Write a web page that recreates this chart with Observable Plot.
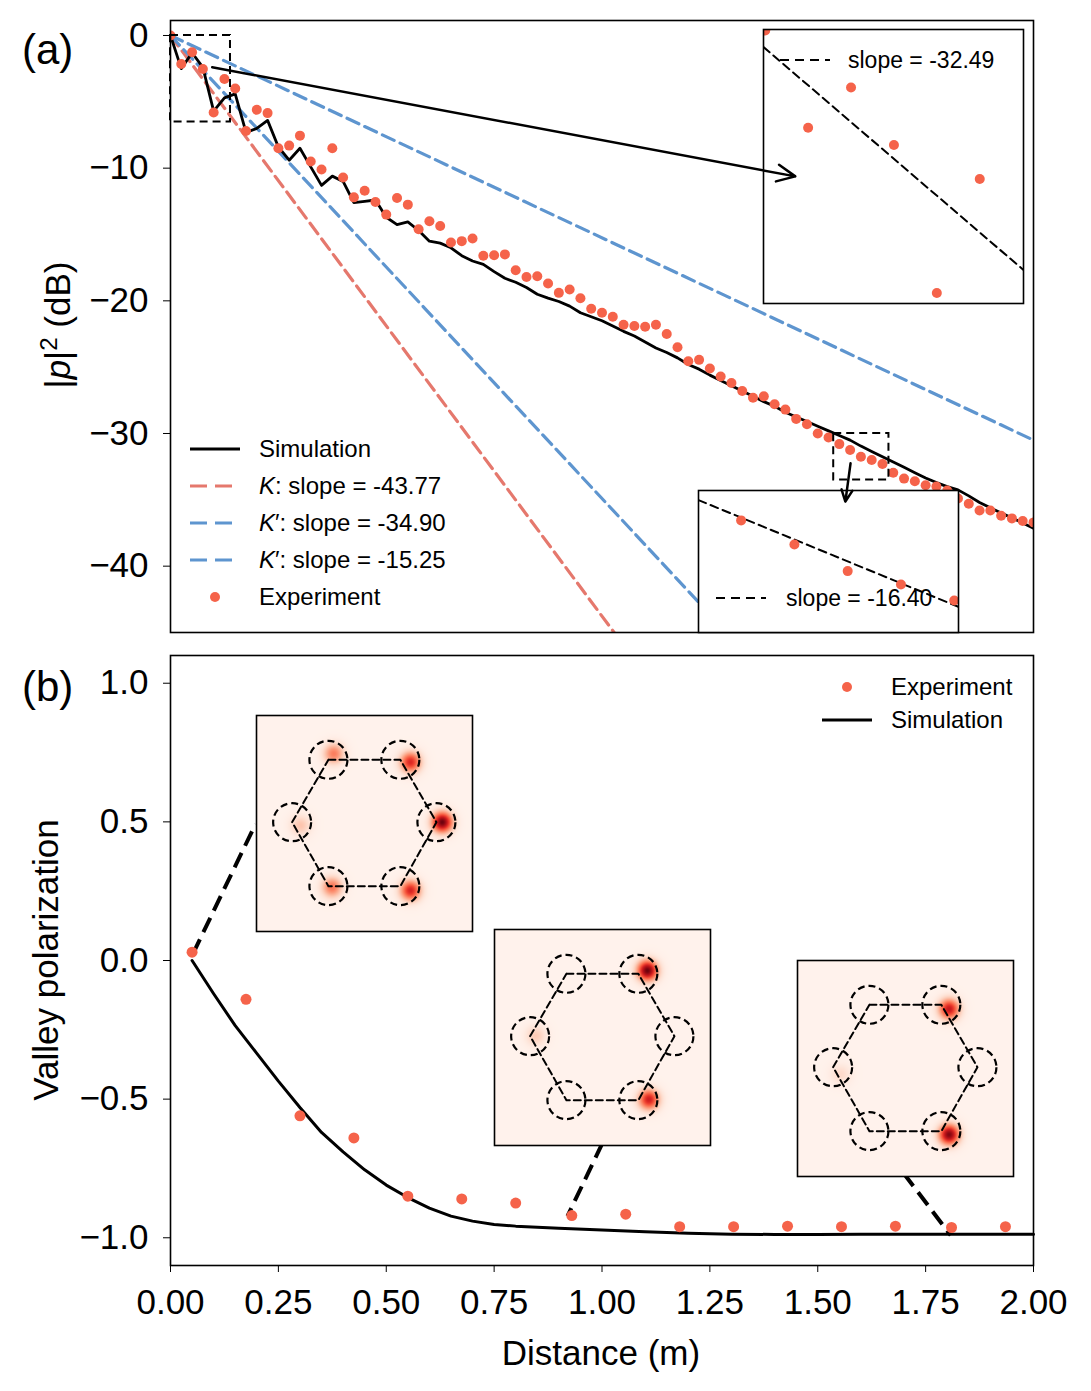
<!DOCTYPE html>
<html><head><meta charset="utf-8">
<script src="https://cdn.jsdelivr.net/npm/d3@7"></script>
<script src="https://cdn.jsdelivr.net/npm/@observablehq/plot@0.6"></script>
<style>
body{margin:0;background:white;}
#fig{position:relative;width:1091px;height:1391px;background:white;font-family:"Liberation Sans",Arial,Helvetica,sans-serif;color:black;overflow:hidden;}
.t{position:absolute;white-space:nowrap;line-height:1;}
</style></head><body><div id="fig"></div>
<script>
// ---------- DATA ----------
// Panel (a): |p|^2 (dB) vs distance (m)
const distA = [0,0.025,0.05,0.075,0.1,0.125,0.15,0.175,0.2,0.225,0.25,0.275,0.3,0.325,0.35,0.375,0.4,0.425,0.45,0.475,0.5,0.525,0.55,0.575,0.6,0.625,0.65,0.675,0.7,0.725,0.75,0.775,0.8,0.825,0.85,0.875,0.9,0.925,0.95,0.975,1.0,1.025,1.05,1.075,1.1,1.125,1.15,1.175,1.2,1.225,1.25,1.275,1.3,1.325,1.35,1.375,1.4,1.425,1.45,1.475,1.5,1.525,1.55,1.575,1.6,1.625,1.65,1.675,1.7,1.725,1.75,1.775,1.8,1.825,1.85,1.875,1.9,1.925,1.95,1.975,2.0];
const simA = [0,-2.5,-1.3,-2.4,-5.7,-4.7,-4.4,-7.3,-7.0,-6.4,-8.4,-9.4,-8.5,-9.9,-11.3,-10.6,-11.0,-12.6,-12.5,-12.4,-13.7,-14.25,-14.05,-14.7,-15.5,-15.65,-16.0,-16.6,-17.0,-17.25,-17.8,-18.3,-18.6,-19.0,-19.5,-19.8,-20.05,-20.4,-20.9,-21.2,-21.5,-21.9,-22.3,-22.65,-23.1,-23.55,-23.9,-24.3,-24.8,-25.15,-25.6,-26.0,-26.4,-26.8,-27.2,-27.6,-27.95,-28.4,-28.75,-29.1,-29.45,-29.8,-30.15,-30.5,-30.95,-31.35,-31.75,-32.15,-32.55,-32.95,-33.35,-33.7,-34.0,-34.25,-34.7,-35.2,-35.6,-36.0,-36.35,-36.75,-37.15];
const expA = [0,-2.15,-1.26,-2.53,-5.8,-3.28,-4.0,-7.2,-5.6,-5.85,-8.5,-8.3,-7.55,-9.5,-10.1,-8.5,-10.7,-12.2,-11.7,-12.55,-13.5,-12.25,-12.75,-14.6,-14.0,-14.36,-15.6,-15.5,-15.3,-16.6,-16.57,-16.5,-17.7,-18.2,-18.15,-18.7,-19.4,-19.15,-19.8,-20.6,-20.9,-21.2,-21.8,-21.9,-21.96,-21.8,-22.5,-23.5,-24.55,-24.45,-25.1,-25.7,-26.2,-26.8,-27.3,-27.2,-27.8,-28.2,-28.9,-29.3,-30.0,-30.3,-30.8,-31.25,-31.75,-32.0,-32.3,-32.96,-33.4,-33.6,-33.9,-34.0,-34.3,-34.9,-35.3,-35.8,-35.8,-36.2,-36.4,-36.6,-36.7];
const fitLabels = ["K", "K′", "K′"];
const fitSlopes = [-43.77, -34.90, -15.25];
const fitColors = ["#e5786d", "#5e95cf", "#5e95cf"];
const yTicksA = [0, -10, -20, -30, -40];

// zoom insets of panel (a)
const zoomRectX1 = [0, 1.537], zoomRectX2 = [0.139, 1.665];
const zoomRectY1 = [0, -30.0], zoomRectY2 = [-6.53, -33.5];
const arrowX1 = [0.0966, 1.576], arrowY1 = [-2.39, -32.25];
const arrowX2 = [1.448, 1.564], arrowY2 = [-10.62, -35.14];
const insetSlopes = [-32.49, -16.40];
const insetAnchorX = [0, 1.591], insetAnchorY = [-0.40, -31.42];

// Panel (b): valley polarization vs distance
const distB = [0.05,0.175,0.30,0.425,0.55,0.675,0.80,0.93,1.055,1.18,1.305,1.43,1.555,1.68,1.81,1.935];
const expB  = [0.03,-0.14,-0.56,-0.64,-0.85,-0.86,-0.875,-0.92,-0.915,-0.96,-0.96,-0.958,-0.96,-0.958,-0.963,-0.96];
const distSimB = [0.05,0.1,0.15,0.2,0.25,0.3,0.35,0.4,0.45,0.5,0.55,0.6,0.65,0.7,0.75,0.8,0.9,1.0,1.1,1.2,1.3,1.4,1.5,1.6,1.7,1.8,1.9,2.0];
const simB = [0.0,-0.12,-0.235,-0.335,-0.435,-0.53,-0.62,-0.69,-0.755,-0.81,-0.855,-0.893,-0.922,-0.94,-0.952,-0.958,-0.966,-0.972,-0.978,-0.984,-0.987,-0.988,-0.988,-0.987,-0.987,-0.987,-0.987,-0.987];
const xTicksB = [0,0.25,0.5,0.75,1.0,1.25,1.5,1.75,2.0];
const yTicksB = [1.0, 0.5, 0.0, -0.5, -1.0];
// connectors from data points to field-map insets
const linkX1 = [0.052, 1.001, 1.699], linkY1 = [0.024, -0.659, -0.767];
const linkX2 = [0.197, 0.920, 1.808], linkY2 = [0.492, -0.922, -0.991];

// field maps: hexagon sites (unit square, y up) and spot intensities
const siteX = [0.333, 0.666, 0.833, 0.666, 0.333, 0.165];
const siteY = [0.795, 0.795, 0.506, 0.21, 0.21, 0.506];
const spots1X = [0.358, 0.713, 0.86, 0.713, 0.35, 0.204];
const spots1Y = [0.823, 0.784, 0.506, 0.19, 0.205, 0.491];
const spots1A = [0.42, 0.68, 0.97, 0.70, 0.45, 0.2];
const spots2X = [0.708, 0.715, 0.192];
const spots2Y = [0.81, 0.213, 0.508];
const spots2A = [0.97, 0.72, 0.18];
const spots3X = [0.702, 0.702, 0.2];
const spots3Y = [0.775, 0.194, 0.473];
const spots3A = [0.75, 0.93, 0.12];

// ---------- BUILD ----------
const FONT = "'Liberation Sans', Arial, Helvetica, sans-serif";
const DOT = "#f5634a";
const fig = document.getElementById("fig");
function place(el, left, top, front) {
  el.style.position = "absolute"; el.style.left = left + "px"; el.style.top = top + "px";
  if (front) el.style.pointerEvents = "none";
  fig.appendChild(el); return el;
}
function label(html, left, top, size, extra) {
  const d = document.createElement("div");
  d.className = "t"; d.innerHTML = html;
  d.style.left = left + "px"; d.style.top = top + "px"; d.style.fontSize = size + "px";
  d.style.transform = extra || "translateY(-50%)";
  fig.appendChild(d); return d;
}
const fmtInt = d3.format("d");

const rowsA = distA.map((d, i) => ({d, sim: simA[i], exp: expA[i]}));
const fitRows = fitSlopes.map((s, i) => [{d: 0, v: 0, c: fitColors[i]}, {d: 2, v: 2 * s, c: fitColors[i]}]);

const commonA = {
  width: 1091, height: 640, marginLeft: 170, marginRight: 58, marginTop: 20, marginBottom: 8,
  x: {domain: [0, 2], axis: null},
  y: {domain: [-45, 1.13], ticks: yTicksA, tickFormat: fmtInt, tickSize: 7, tickPadding: 15, label: null},
  color: {type: "identity"},
  style: {fontFamily: FONT, fontSize: "35px", background: "transparent", overflow: "visible", color: "black"}
};

const panelA = Plot.plot({
  ...commonA,
  marks: [
    ...fitRows.map(r => Plot.line(r, {x: "d", y: "v", stroke: "c", strokeWidth: 3.2, strokeDasharray: "13,6.5", clip: true})),
    Plot.line(rowsA, {x: "d", y: "sim", stroke: "black", strokeWidth: 2.8, clip: true}),
    Plot.dot(rowsA, {x: "d", y: "exp", r: 5, fill: DOT, clip: true}),
    Plot.frame({stroke: "black", strokeWidth: 1.6})
  ]
});
place(panelA, 0, 0);

// zoom inset 1 (early region)
const inset1Dom = {x: [-0.001, 0.1505], y: [-6.03, 0.02]};
const inset1Fit = inset1Dom.x.map(x => ({x, y: insetAnchorY[0] + insetSlopes[0] * (x - insetAnchorX[0])}));
const insetA1 = Plot.plot({
  width: 260, height: 274, margin: 0,
  x: {domain: inset1Dom.x, axis: null}, y: {domain: inset1Dom.y, axis: null},
  style: {background: "white", overflow: "visible"},
  marks: [
    Plot.line(inset1Fit, {x: "x", y: "y", stroke: "black", strokeWidth: 2, strokeDasharray: "8,5", clip: true}),
    Plot.dot(rowsA.filter(r => r.d <= zoomRectX2[0]), {x: "d", y: "exp", r: 5, fill: DOT, clip: true}),
    Plot.frame({stroke: "black", strokeWidth: 1.6})
  ]
});
place(insetA1, 763, 29);

// zoom inset 2 (far region)
const inset2Dom = {x: [1.53, 1.652], y: [-32.9, -30.24]};
const inset2Fit = inset2Dom.x.map(x => ({x, y: insetAnchorY[1] + insetSlopes[1] * (x - insetAnchorX[1])}));
const insetA2 = Plot.plot({
  width: 260, height: 142, margin: 0,
  x: {domain: inset2Dom.x, axis: null}, y: {domain: inset2Dom.y, axis: null},
  style: {background: "white", overflow: "visible"},
  marks: [
    Plot.line(inset2Fit, {x: "x", y: "y", stroke: "black", strokeWidth: 2, strokeDasharray: "8,5", clip: true}),
    Plot.dot(rowsA.filter(r => r.d >= zoomRectX1[1] && r.d <= zoomRectX2[1]), {x: "d", y: "exp", r: 5, fill: DOT, clip: true}),
    Plot.frame({stroke: "black", strokeWidth: 1.6})
  ]
});
place(insetA2, 698, 490);

// overlay: highlight boxes and arrows (above insets)
const rectRows = zoomRectX1.map((x1, i) => ({x1, x2: zoomRectX2[i], y1: zoomRectY1[i], y2: zoomRectY2[i]}));
const arrowRows = arrowX1.map((x1, i) => ({x1, y1: arrowY1[i], x2: arrowX2[i], y2: arrowY2[i]}));
const overlayA = Plot.plot({
  ...commonA,
  y: {domain: [-45, 1.13], axis: null},
  marks: [
    Plot.rect(rectRows, {x1: "x1", x2: "x2", y1: "y1", y2: "y2", fill: "none", stroke: "black", strokeWidth: 2, strokeDasharray: "8,5"}),
    Plot.arrow(arrowRows, {x1: "x1", y1: "y1", x2: "x2", y2: "y2", stroke: "black", strokeWidth: 2.5, headLength: 12, headAngle: 50})
  ]
});
place(overlayA, 0, 0, true);

// legend (a)
function swatch(kind, color) {
  const ns = "http://www.w3.org/2000/svg";
  const s = document.createElementNS(ns, "svg");
  s.setAttribute("width", 52); s.setAttribute("height", 14);
  s.style.position = "absolute"; s.style.left = "0px"; s.style.top = "-7px";
  if (kind === "dot") {
    const c = document.createElementNS(ns, "circle");
    c.setAttribute("cx", 26); c.setAttribute("cy", 7); c.setAttribute("r", 5); c.setAttribute("fill", color);
    s.appendChild(c);
  } else {
    const l = document.createElementNS(ns, "line");
    l.setAttribute("x1", 1); l.setAttribute("x2", 51); l.setAttribute("y1", 7); l.setAttribute("y2", 7);
    l.setAttribute("stroke", color); l.setAttribute("stroke-width", 3.2);
    if (kind === "dash") l.setAttribute("stroke-dasharray", "17,8");
    if (kind === "dashk") { l.setAttribute("stroke-dasharray", "9,6"); l.setAttribute("stroke-width", 2); }
    s.appendChild(l);
  }
  return s;
}
function legendRow(kind, color, html, x, y, textX, size) {
  const holder = document.createElement("div");
  holder.style.position = "absolute"; holder.style.left = x + "px"; holder.style.top = y + "px";
  holder.appendChild(swatch(kind, color));
  fig.appendChild(holder);
  label(html, textX, y, size);
}
const legendA = [
  ["line", "black", "Simulation"],
  ["dash", fitColors[0], `<i>${fitLabels[0]}</i>: slope = ${fitSlopes[0].toFixed(2)}`],
  ["dash", fitColors[1], `<i>K</i>′: slope = ${fitSlopes[1].toFixed(2)}`],
  ["dash", fitColors[2], `<i>K</i>′: slope = ${fitSlopes[2].toFixed(2)}`],
  ["dot", DOT, "Experiment"]
];
legendA.forEach((e, i) => legendRow(e[0], e[1], e[2], 189, 449 + i * 37, 259, 24));

legendRow("dashk", "black", "slope = " + insetSlopes[0].toFixed(2), 779, 60, 848, 23);
legendRow("dashk", "black", "slope = " + insetSlopes[1].toFixed(2), 715, 598, 786, 23);

// ---------- PANEL (b) ----------
const rowsB = distB.map((d, i) => ({d, v: expB[i]}));
const rowsSimB = distSimB.map((d, i) => ({d, v: simB[i]}));
const linkRows = linkX1.map((x1, i) => ({x1, y1: linkY1[i], x2: linkX2[i], y2: linkY2[i]}));
const panelB = Plot.plot({
  width: 1091, height: 751, marginLeft: 170, marginRight: 58, marginTop: 15, marginBottom: 126,
  x: {domain: [0, 2], ticks: xTicksB, tickFormat: d3.format(".2f"), tickSize: 7, tickPadding: 17, label: null},
  y: {domain: [-1.1, 1.1], ticks: yTicksB, tickFormat: d3.format(".1f"), tickSize: 7, tickPadding: 15, label: null},
  style: {fontFamily: FONT, fontSize: "35px", background: "transparent", overflow: "visible", color: "black"},
  marks: [
    Plot.link(linkRows, {x1: "x1", y1: "y1", x2: "x2", y2: "y2", stroke: "black", strokeWidth: 4, strokeDasharray: "16,8"}),
    Plot.line(rowsSimB, {x: "d", y: "v", stroke: "black", strokeWidth: 3}),
    Plot.dot(rowsB, {x: "d", y: "v", r: 5.5, fill: DOT}),
    Plot.frame({stroke: "black", strokeWidth: 1.6})
  ]
});
place(panelB, 0, 640);

// field-map insets
const siteRows = siteX.map((x, i) => ({x, y: siteY[i]}));
function fieldMap(sx, sy, sa) {
  const sig2 = 2 * 0.032 * 0.032;
  return Plot.plot({
    width: 216, height: 216, margin: 0,
    x: {domain: [0, 1], axis: null}, y: {domain: [0, 1], axis: null},
    color: {type: "linear", scheme: "reds", domain: [0, 1]},
    style: {background: "white", overflow: "visible"},
    marks: [
      Plot.raster({x1: 0, y1: 0, x2: 1, y2: 1, width: 216, height: 216,
        fill: (x, y) => {
          let v = 0.018;
          for (let i = 0; i < sx.length; ++i) {
            const dx = x - sx[i], dy = y - sy[i];
            v += sa[i] * Math.exp(-(dx * dx + dy * dy) / sig2);
          }
          return Math.min(1, v);
        }}),
      Plot.line([...siteRows, siteRows[0]], {x: "x", y: "y", stroke: "black", strokeWidth: 2, strokeDasharray: "7,4"}),
      Plot.dot(siteRows, {x: "x", y: "y", r: 19, stroke: "black", strokeWidth: 2.2, strokeDasharray: "7,4", fill: "none"}),
      Plot.frame({stroke: "black", strokeWidth: 1.6})
    ]
  });
}
place(fieldMap(spots1X, spots1Y, spots1A), 256, 715);
place(fieldMap(spots2X, spots2Y, spots2A), 494, 929);
place(fieldMap(spots3X, spots3Y, spots3A), 797, 960);

// legend (b)
legendRow("dot", DOT, "Experiment", 821, 687, 891, 24);
legendRow("line", "black", "Simulation", 821, 720, 891, 24);

// axis labels and panel letters
label("(a)", 22, 50, 42);
label("(b)", 22, 687, 42);
label("|<i>p</i>|<span style='font-size:24px;position:relative;top:-13px'>2</span> (dB)", 57, 325, 35, "translate(-50%,-50%) rotate(-90deg)");
label("Valley polarization", 45, 960, 35, "translate(-50%,-50%) rotate(-90deg)");
label("Distance (m)", 601, 1352, 35, "translate(-50%,-50%)");
</script></body></html>
